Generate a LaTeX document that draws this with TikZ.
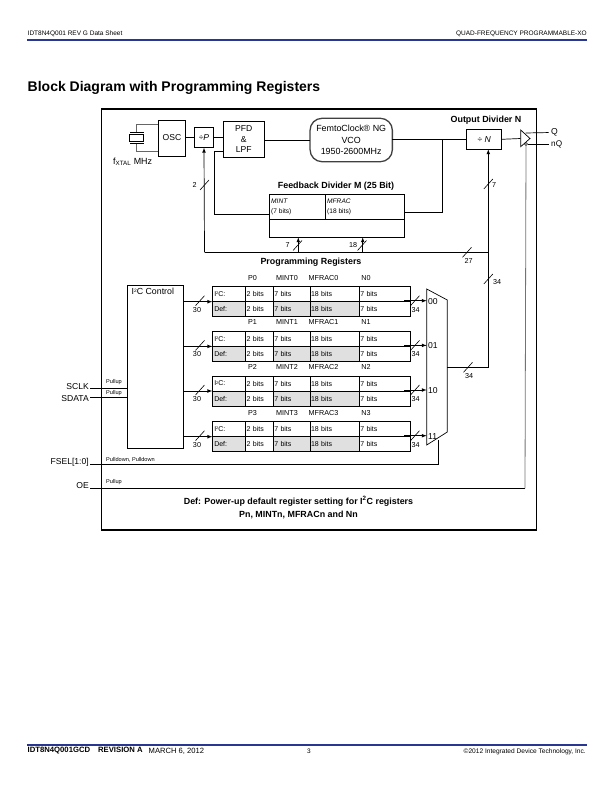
\documentclass[tikz,border=0pt]{standalone}
\usepackage{fontspec}
\setmainfont{Liberation Sans}
\usetikzlibrary{shapes, arrows,positioning,fit}
\definecolor{ruleblue}{RGB}{40,55,145}
\definecolor{defgrey}{gray}{0.88}
\tikzstyle{block} = [draw,rectangle,line width=.7pt,inner sep=0,outer sep=0,align=center,font=\fontsize{8.6}{10.5}\selectfont]
\tikzstyle{cell} = [draw,rectangle,line width=.7pt,anchor=north west,inner sep=0,outer sep=0,minimum height=15pt,align=left,font=\fontsize{7}{8}\selectfont]
\tikzstyle{wire} = [-,line width=.7pt]
\tikzstyle{bus} = [-latex,line width=.7pt]
\tikzstyle{tickline} = [-,line width=.6pt]
\tikzstyle{tiny} = [inner sep=0,font=\fontsize{7.2}{8}\selectfont]
\tikzstyle{micro} = [inner sep=0,anchor=west,font=\fontsize{5.6}{6}\selectfont]
\tikzstyle{pin} = [inner sep=0,anchor=east,font=\fontsize{8.6}{10}\selectfont]
\tikzstyle{heading} = [inner sep=0,font=\bfseries\fontsize{8.9}{10}\selectfont]
\def \tk {4.5}
\def\busmark#1{\draw[tickline] (#1)+(-\tk,5) -- +(\tk,-5);}
\def\iic{I\raisebox{.45ex}{\scalebox{.55}{2}}C}

\begin{document}
\begin{tikzpicture}[x=1pt,y=-1pt]
  \useasboundingbox (0,0) rectangle (612,792);
  % page header and footer
  \node[inner sep=0,anchor=west,font=\fontsize{6.5}{7}\selectfont] (docname) at (27.5,33.5) {IDT8N4Q001 REV G Data Sheet};
  \node[inner sep=0,anchor=east,font=\fontsize{6.5}{7}\selectfont] (doctitle) at (587,33.5) {QUAD-FREQUENCY PROGRAMMABLE-XO};
  \draw[ruleblue,line width=1.7pt] (27,40) -- (587,40);
  \node[inner sep=0,anchor=west,font=\bfseries\fontsize{14}{16}\selectfont] (title) at (27.5,88) {Block Diagram with Programming Registers};
  \draw[ruleblue,line width=1.7pt] (27,745) -- (587,745);
  \node[inner sep=0,anchor=west,font=\bfseries\fontsize{7.7}{9}\selectfont] (partno) at (27.5,751) {IDT8N4Q001GCD\hspace{8pt}REVISION A};
  \node[inner sep=0,anchor=west,font=\fontsize{7.6}{9}\selectfont] (docdate) at (148.5,751.5) {MARCH 6, 2012};
  \node[inner sep=0,font=\fontsize{6.5}{7}\selectfont] (pageno) at (309,751.5) {3};
  \node[inner sep=0,anchor=east,font=\fontsize{6.6}{7}\selectfont] (copyright) at (586,751.5) {©2012 Integrated Device Technology, Inc.};

  % frame
  \draw[line width=1.1pt] (101.5,109) rectangle (536.5,530);

  % clock path
  \node[block,minimum width=27.4pt,minimum height=36pt] (osc) at (172,138) {OSC};
  \node[block,minimum width=19.4pt,minimum height=20.4pt] (pdiv) at (204,137.5) {÷\textit{P}};
  \node[block,minimum width=41pt,minimum height=35.6pt] (pfd) at (243.8,139.5) {PFD\\\&\\LPF};
  \node[draw=black!75,line width=1.3pt,rectangle,rounded corners=12pt,inner sep=0,outer sep=0,align=center,minimum width=82.3pt,minimum height=43.4pt,font=\fontsize{8.9}{11.4}\selectfont] (vco) at (351.2,140) {FemtoClock® NG\\VCO\\1950-2600MHz};
  \node[block,minimum width=35pt,minimum height=20pt] (ndiv) at (484.2,139.3) {÷ \textit{N}};
  \node[heading] (ndivtitle) at (486,120) {Output Divider N};
  \draw[wire] (osc.east |- pdiv.west) -- (pdiv.west);
  \draw[wire] (pdiv.east) -- (pfd.west |- pdiv.east);
  \draw[wire] (pfd.east |- vco.west) -- (vco.west);
  \draw[wire] (vco.east |- ndiv.west) -- (ndiv.west);

  % crystal
  \coordinate (xtaltop) at (136.5,132);
  \coordinate (xtalbot) at (136.5,143.5);
  \draw[wire,black!60] (osc.west |- 0,124) -| (xtaltop);
  \draw[wire,black!60] (osc.west |- 0,151) -| (xtalbot);
  \draw[line width=.7pt] (130,132) -- (143.5,132);
  \draw[line width=.7pt] (130,143.5) -- (143.5,143.5);
  \draw[line width=.7pt] (129.5,134.5) rectangle (143.8,141.5);
  \node[inner sep=0,anchor=west,font=\fontsize{8.9}{10}\selectfont] (xtallabel) at (113,161.5) {f\textsubscript{XTAL} MHz};

  % output buffer
  \coordinate (bufin) at (520.7,138.5);
  \coordinate (bufq) at (525.5,133);
  \coordinate (bufnq) at (527.5,144);
  \node[inner sep=0,anchor=west,font=\fontsize{8.6}{10}\selectfont] (q) at (551,132.5) {Q};
  \node[inner sep=0,anchor=west,font=\fontsize{8.2}{10}\selectfont] (nq) at (551,144) {nQ};
  \draw[wire] (ndiv.east) -- (bufin);
  \draw[line width=.7pt,fill=white] (520.7,130) -- (530,138.5) -- (520.7,146.7) -- cycle;
  \draw[wire,shorten >=2.5pt] (bufq) -- (q.west);
  \draw[wire,shorten >=2.5pt] (bufnq) -- (nq.west);
  \node[draw,circle,line width=.5pt,inner sep=0,minimum size=3pt,fill=white] (bubble) at (526,144) {};

  % feedback divider
  \node[heading] (fbtitle) at (336,186) {Feedback Divider M (25 Bit)};
  \node[cell,text width=55.7pt,minimum height=25pt] (mint) at (269.3,194.3) {};
  \node[cell,text width=79.3pt,minimum height=25pt] (mfrac) at (325,194.3) {};
  \node[cell,text width=135pt,minimum height=18pt] (fbbot) at (269.3,219.3) {};
  \node[tiny,anchor=west,font=\itshape\fontsize{6.6}{7}\selectfont] (minttxt) at (271,201.5) {MINT};
  \node[tiny,anchor=west,font=\fontsize{6.6}{7}\selectfont] (mintbits) at (271,211.5) {(7 bits)};
  \node[tiny,anchor=west,font=\itshape\fontsize{6.6}{7}\selectfont] (mfractxt) at (327,201.5) {MFRAC};
  \node[tiny,anchor=west,font=\fontsize{6.6}{7}\selectfont] (mfracbits) at (327,211.5) {(18 bits)};
  \coordinate (fbnode) at (442.3,139.3);
  \coordinate (fbright) at (404.3,212.3);
  \coordinate (fbleft) at (269.3,214.3);
  \draw[wire] (fbnode) |- (fbright);
  \draw[wire] (fbleft) -| (214.3,151.7) -- (pfd.west |- 0,151.7);

  % programming bus
  \coordinate (buscorner) at (204.5,252.3);
  \coordinate (busend) at (488.3,252.3);
  \coordinate (muxout) at (447.3,367.3);
  \coordinate (minttap) at (298.3,252.3);
  \coordinate (mfractap) at (362.7,252.3);
  \draw[bus] (buscorner) -- (pdiv.south);
  \draw[wire] (buscorner) -- (busend);
  \draw[bus] (minttap) -- (minttap |- fbbot.south);
  \draw[bus] (mfractap) -- (mfractap |- fbbot.south);
  \draw[bus] (muxout) -| (ndiv.south -| busend);
  \coordinate (tkp) at (204.5,185);
  \coordinate (tkn) at (488.3,184);
  \coordinate (tkbus) at (467,252.3);
  \coordinate (tkmint) at (297.5,245.5);
  \coordinate (tkmfrac) at (362,245.5);
  \coordinate (tkup) at (488.3,279);
  \coordinate (tkout) at (468,367.3);
  \busmark{tkp} \busmark{tkn} \busmark{tkbus} \busmark{tkmint} \busmark{tkmfrac} \busmark{tkup} \busmark{tkout}
  \node[tiny] (lblp) at (194.5,184.5) {2};
  \node[tiny] (lbln) at (494,185.5) {7};
  \node[tiny] (lblbus) at (468.5,261) {27};
  \node[tiny] (lblmint) at (287.5,245.5) {7};
  \node[tiny] (lblmfrac) at (353,245.5) {18};
  \node[tiny] (lblup) at (497,282) {34};
  \node[tiny] (lblout) at (469,376) {34};
  \node[heading] (regtitle) at (311,262) {Programming Registers};

  % I2C control and register banks
  \node[block,anchor=north west,minimum width=56pt,minimum height=162.6pt] (ctrl) at (127.3,285.7) {};
  \node[inner sep=0,anchor=west,font=\fontsize{8.8}{10}\selectfont] (ctrltxt) at (131.5,291) {\iic{} Control};

  % mux outline
  \draw[line width=.7pt] (426.7,289) -- (447.3,300) -- (447.3,432) -- (426.7,445) -- cycle;

  \foreach \n/\y/\s in {0/286.7/00,1/331.4/01,2/376/10,3/421.7/11} {
    \node[cell,fill=white,text width=33.4pt] (it\n) at (212.3,\y) {\hspace{2pt}\iic:};
    \node[cell,fill=white,text width=27.6pt] (ip\n) at (245.7,\y) {\hspace{1pt}2 bits};
    \node[cell,fill=white,text width=36.7pt] (im\n) at (273.3,\y) {\hspace{1pt}7 bits};
    \node[cell,fill=white,text width=49.3pt] (if\n) at (310,\y) {\hspace{1pt}18 bits};
    \node[cell,fill=white,text width=50.7pt] (in\n) at (359.3,\y) {\hspace{1pt}7 bits};
    \node[cell,fill=defgrey,text width=33.4pt] (dt\n) at (it\n.south west) {\hspace{2pt}Def:};
    \node[cell,fill=white,text width=27.6pt] (dp\n) at (ip\n.south west) {\hspace{1pt}2 bits};
    \node[cell,fill=defgrey,text width=36.7pt] (dm\n) at (im\n.south west) {\hspace{1pt}7 bits};
    \node[cell,fill=defgrey,text width=49.3pt] (df\n) at (if\n.south west) {\hspace{1pt}18 bits};
    \node[cell,fill=white,text width=50.7pt] (dn\n) at (in\n.south west) {\hspace{1pt}7 bits};
    \node[tiny] (hp\n) at (252.5,\y-9) {P\n};
    \node[tiny] (hm\n) at (287,\y-9) {MINT\n};
    \node[tiny] (hf\n) at (323.5,\y-9) {MFRAC\n};
    \node[tiny] (hn\n) at (366,\y-9) {N\n};
    % bus into the bank
    \coordinate (cin\n) at (ctrl.east |- dt\n.north west);
    \coordinate (cmk\n) at (200,\y+14);
    \draw[bus] (cin\n) -- (dt\n.north west);
    \busmark{cmk\n}
    \node[tiny] (cl\n) at (197,\y+23) {30};
    % bus into the mux
    \coordinate (rout\n) at (404,\y+14);
    \coordinate (min\n) at (426.7,\y+14);
    \coordinate (rmk\n) at (415,\y+14);
    \draw[bus] (rout\n) -- (min\n);
    \busmark{rmk\n}
    \node[tiny] (rl\n) at (415.5,\y+23) {34};
    \node[inner sep=0,anchor=west,font=\fontsize{8.6}{10}\selectfont] (sel\n) at (428,\y+14.5) {\s};
  }

  % pins
  \node[pin] (sclk) at (89,386.5) {SCLK};
  \node[pin] (sdata) at (89,399) {SDATA};
  \node[pin] (fsel) at (89,462.5) {FSEL[1:0]};
  \node[pin] (oe) at (89,486) {OE};
  \coordinate (fselend) at (438,464.3);
  \coordinate (muxsel) at (438,439.5);
  \coordinate (oeend) at (525,488.3);
  \draw[wire] (90,388) -- (ctrl.west |- 0,388);
  \draw[wire] (90,397.7) -- (ctrl.west |- 0,397.7);
  \draw[wire] (90,464.3) -- (fselend) -- (muxsel);
  \draw[wire] (90,488.3) -- (oeend);
  \draw[line width=.8pt,black!55] (oeend) -- (bubble.south);
  \node[micro] (pu1) at (106,382.5) {Pullup};
  \node[micro] (pu2) at (106,393) {Pullup};
  \node[micro] (pd) at (106,459.5) {Pulldown, Pulldown};
  \node[micro] (pu3) at (106,482) {Pullup};

  % note under the diagram
  \node[heading] (note1) at (298.5,501) {Def: Power-up default register setting for I\textsuperscript{2}C registers};
  \node[heading] (note2) at (298.5,515) {Pn, MINTn, MFRACn and Nn};
\end{tikzpicture}
\end{document}
